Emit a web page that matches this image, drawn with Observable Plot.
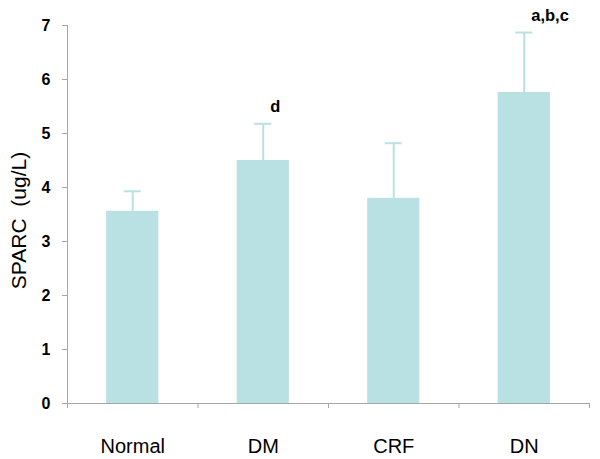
<!DOCTYPE html>
<html><head><meta charset="utf-8">
<script src="https://cdn.jsdelivr.net/npm/d3@7"></script>
<script src="https://cdn.jsdelivr.net/npm/@observablehq/plot@0.6"></script>
<style>body{margin:0;background:#fff}</style>
</head><body><div id="chart"></div>
<script>
const categories = ["Normal", "DM", "CRF", "DN"];
const means = [3.56, 4.50, 3.80, 5.76];
const errors = [0.37, 0.68, 1.02, 1.11];
const labels = ["", "d", "", "a,b,c"];
const yTicks = [0, 1, 2, 3, 4, 5, 6, 7];
const yLabel = "SPARC\u00a0\u00a0(ug/L)";

const data = categories.map((c, i) => ({c, i, mean: means[i], err: errors[i], label: labels[i]}));
const barColor = "#b9e0e3";
const axisGray = "#a6a6a6";

const chart = Plot.plot({
  width: 600, height: 459,
  marginLeft: 67, marginRight: 11, marginTop: 25, marginBottom: 56,
  style: {fontFamily: "'Liberation Sans', Arial, sans-serif", background: "#fff", color: "#000"},
  x: {type: "linear", domain: [0, categories.length]},
  y: {domain: [0, 7]},
  marks: [
    Plot.rectY(data, {x1: d => d.i + 0.3, x2: d => d.i + 0.7, y1: 0, y2: "mean", fill: barColor}),
    Plot.ruleX(data, {x: d => d.i + 0.5, y1: "mean", y2: d => d.mean + d.err, stroke: barColor, strokeWidth: 2}),
    Plot.ruleY(data, {y: d => d.mean + d.err, x1: d => d.i + 0.435, x2: d => d.i + 0.565, stroke: barColor, strokeWidth: 2}),
    Plot.text(data.filter(d => d.label), {x: d => d.i + 0.5, y: d => d.mean + d.err, text: "label", dy: -17, dx: 7, textAnchor: "start", fontWeight: "bold", fontSize: 16.5}),
    Plot.axisY({ticks: yTicks, tickFormat: "d", tickSize: 5, tickPadding: 12, fontWeight: "bold", fontSize: 16, stroke: axisGray, fill: "#000", label: null}),
    Plot.text([yLabel], {frameAnchor: "left", textAnchor: "middle", rotate: -90, dx: -48, dy: 6, fontSize: 21}),
    Plot.axisX({ticks: d3.range(categories.length + 1), tickSize: 5, tickFormat: () => "", stroke: axisGray, label: null}),
    Plot.axisX({ticks: categories.map((c, i) => i + 0.5), tickFormat: v => categories[Math.floor(v)], tickSize: 0, tickPadding: 35, fontSize: 20, label: null}),
    Plot.ruleX([0], {stroke: axisGray}),
    Plot.ruleY([0], {stroke: axisGray})
  ]
});
document.getElementById("chart").append(chart);
</script>
</body></html>
